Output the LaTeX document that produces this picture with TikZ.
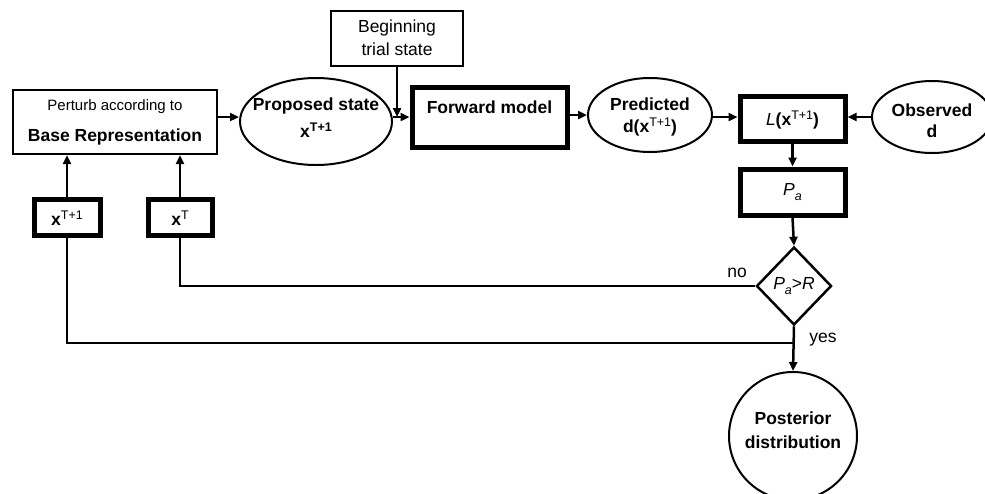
\documentclass[tikz,border=0pt]{standalone}
\usepackage{fontspec}
\setmainfont{Liberation Sans}
\usetikzlibrary{arrows.meta,shapes.geometric}
\newcommand{\fs}[1]{\fontsize{#1}{#1}\selectfont}
\newcommand{\sups}[1]{\raisebox{6.5pt}{\fs{12.5}\mdseries #1}}
\newcommand{\supb}[1]{\raisebox{6.5pt}{\fs{12.5}\bfseries #1}}
\begin{document}
\begin{tikzpicture}[x=1pt,y=-1pt,
  thinbox/.style={draw,line width=2pt,rectangle,inner sep=0pt},
  thickbox/.style={draw,line width=5pt,rectangle,inner sep=0pt},
  ell/.style={draw,line width=2pt,ellipse,inner sep=0pt},
  txt/.style={inner sep=0pt,font=\fs{17.5}},
  btxt/.style={inner sep=0pt,font=\fs{17.5}\bfseries},
  arr/.style={line width=2.5pt,-{Triangle[length=9pt,width=8pt]}},
  ln/.style={line width=2.5pt}]
\useasboundingbox (0,0) rectangle (985,493);
% shapes
\node[thinbox,minimum width=204pt,minimum height=64pt] (perturb) at (115,122) {};
\node[ell,minimum width=152pt,minimum height=87pt] (proposed) at (316,121.5) {};
\node[thinbox,minimum width=132pt,minimum height=55pt] (begin) at (397,38.5) {};
\node[thickbox,minimum width=155pt,minimum height=60pt] (fwd) at (489.5,117) {};
\node[ell,minimum width=124pt,minimum height=74pt] (pred) at (650,115) {};
\node[thickbox,minimum width=105pt,minimum height=45pt] (lbox) at (792.5,118.5) {};
\node[ell,minimum width=120pt,minimum height=72pt] (obs) at (932,117) {};
\node[thickbox,minimum width=105pt,minimum height=46pt] (pa) at (792.5,192) {};
\node[draw,line width=2.5pt,diamond,inner sep=0pt,minimum width=75pt,minimum height=78pt] (dia) at (794,286) {};
\node[thickbox,minimum width=66pt,minimum height=36pt] (xtone) at (67,217) {};
\node[thickbox,minimum width=64pt,minimum height=36pt] (xt) at (180,217) {};
\node[draw,line width=2pt,circle,inner sep=0pt,minimum size=128pt] (post) at (793,436) {};
% texts
\node[txt,font=\fs{15}] (t1) at (115,107) {Perturb according to};
\node[btxt] (t2) at (115,137) {Base Representation};
\node[btxt] (t3) at (316,106) {Proposed state};
\node[btxt] (t4) at (316,130) {x\supb{T+1}};
\node[txt] (t5) at (397,28) {Beginning};
\node[txt] (t6) at (397,49) {trial state};
\node[btxt] (t7) at (489.5,107) {Forward model};
\node[btxt] (t8) at (650,104) {Predicted};
\node[btxt] (t9) at (650,127) {d(x\sups{T+1})};
\node[btxt] (t10) at (792.5,120) {\mdseries\itshape L\upshape\bfseries(x\sups{T+1})};
\node[btxt] (t11) at (932,110) {Observed};
\node[btxt] (t12) at (932,131) {d};
\node[txt] (t13) at (792.5,192) {\itshape P\raisebox{-5pt}{\fs{12.5}a}};
\node[txt] (t14) at (794,286) {\itshape P\raisebox{-5pt}{\fs{12.5}a}\upshape >\itshape R};
\node[btxt] (t15) at (67,218) {x\sups{T+1}};
\node[btxt] (t16) at (180,218) {x\sups{T}};
\node[btxt] (t17) at (793,418) {Posterior};
\node[btxt] (t18) at (793,442) {distribution};
\node[txt] (no) at (737,273) {no};
\node[txt] (yes) at (823,340) {yes};
% connectors
\coordinate (j) at (397,117);
\draw[arr] (perturb.east |- 0,117) -- (proposed.west |- 0,117);
\draw[arr] (proposed.east |- 0,117) -- (fwd.west |- 0,117);
\draw[arr] (begin.south) -- (j);
\draw[arr] (fwd.east |- 0,115) -- (pred.west |- 0,115);
\draw[arr] (pred.east |- 0,117) -- (lbox.west |- 0,117);
\draw[arr] (obs.west |- 0,117) -- (lbox.east |- 0,117);
\draw[arr] (lbox.south) -- (pa.north);
\draw[arr] (pa.south) -- (dia.north);
\draw[ln] (dia.west) -- (xt.south |- dia.west) -- (xt.south);
\draw[arr] (xt.north) -- (xt.north |- perturb.south);
\draw[arr] (xtone.north) -- (xtone.north |- perturb.south);
\coordinate (yb) at (794,343);
\draw[ln] (xtone.south) -- (xtone.south |- yb) -- (yb);
\draw[arr] (dia.south) -- (post.north);
\end{tikzpicture}
\end{document}
